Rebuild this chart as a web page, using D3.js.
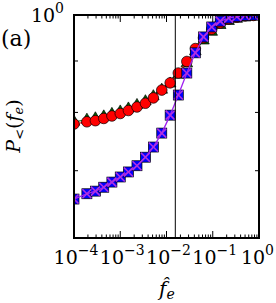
<!DOCTYPE html>
<html><head><meta charset="utf-8">
<script src="https://cdn.jsdelivr.net/npm/d3@7"></script>
<style>html,body{margin:0;padding:0;background:#fff}svg{display:block}</style>
</head><body><div id="c"></div>
<script>
const W=276,H=303;
const xVals=[1e-4,1.9e-4,2.9e-4,4.4e-4,6.6e-4,1.0e-3,1.5e-3,2.3e-3,3.5e-3,5.2e-3,7.9e-3,0.012,0.018,0.0275,0.042,0.063,0.095,0.145,0.22,0.33,0.5,0.76];
const redVals=[0.779,0.783,0.785,0.789,0.7935,0.798,0.8035,0.810,0.817,0.827,0.842,0.856,0.8755,0.899,0.926,0.949,0.968,0.982,0.991,0.995,0.998,0.999];
const greenVals=[0.783,0.7865,0.789,0.7925,0.797,0.8015,0.807,0.8135,0.8205,0.830,0.8425,0.8545,0.872,0.895,0.920,0.943,0.962,0.977,0.986,0.991,0.994,0.996];
const blueVals=[0.656,0.664,0.668,0.674,0.682,0.690,0.698,0.708,0.722,0.739,0.763,0.795,0.8325,0.8755,0.917,0.951,0.973,0.986,0.993,0.9966,0.999,1.0];
const vline=0.0155;
const xTicks=[1e-4,1e-3,1e-2,1e-1,1];
const xTickExps=["−4","−3","−2","−1","0"];
const yMinorTicks=[0.7,0.8,0.9];
const FONT="DejaVu Serif";

const L=74,R=259,T=15,B=238;
const x=d3.scaleLog().domain([1e-4,1]).range([L,R]);
const y=d3.scaleLog().domain([0.6,1]).range([B,T]);
const svg=d3.select("#c").append("svg").attr("width",W).attr("height",H);
svg.append("defs").append("clipPath").attr("id","clip").append("rect").attr("x",L).attr("y",T).attr("width",R-L).attr("height",B-T);
const g=svg.append("g").attr("clip-path","url(#clip)");

const gl=d3.line().x((d,i)=>x(xVals[i])).y(d=>y(d));
g.append("path").attr("d",gl(greenVals)).attr("fill","none").attr("stroke","#006400").attr("stroke-width",1);
const tri=d3.symbol().type(d3.symbolTriangle).size(58);
g.selectAll(".tri").data(greenVals).join("path").attr("d",tri).attr("transform",(d,i)=>`translate(${x(xVals[i])},${y(d)})`).attr("fill","#006400").attr("stroke","#000").attr("stroke-width",0.7);
g.append("path").attr("d",gl(redVals)).attr("fill","none").attr("stroke","red").attr("stroke-width",1);
g.selectAll(".cir").data(redVals).join("circle").attr("cx",(d,i)=>x(xVals[i])).attr("cy",d=>y(d)).attr("r",5.3).attr("fill","red").attr("stroke","#000").attr("stroke-width",0.7);
g.selectAll(".sq").data(blueVals).join("rect").attr("x",(d,i)=>x(xVals[i])-5).attr("y",d=>y(d)-5).attr("width",10).attr("height",10).attr("fill","#0000ff").attr("stroke","#000").attr("stroke-width",0.7);
g.append("path").attr("d",gl(blueVals)).attr("fill","none").attr("stroke","#a020f0").attr("stroke-width",1.3);
g.selectAll(".xm").data(blueVals).join("g").attr("transform",(d,i)=>`translate(${x(xVals[i])},${y(d)})`).each(function(){
  const s=d3.select(this);
  s.append("line").attr("x1",-4.5).attr("y1",-4.5).attr("x2",4.5).attr("y2",4.5).attr("stroke","#b030e0").attr("stroke-width",1.6);
  s.append("line").attr("x1",-4.5).attr("y1",4.5).attr("x2",4.5).attr("y2",-4.5).attr("stroke","#b030e0").attr("stroke-width",1.6);
});
svg.append("line").attr("x1",x(vline)).attr("x2",x(vline)).attr("y1",T).attr("y2",B).attr("stroke","#000").attr("stroke-width",1);

const ax=svg.append("g").attr("stroke","#000").attr("stroke-width",1);
const minor=[];
for(let e=-4;e<0;e++){for(let m=2;m<=9;m++)minor.push(m*Math.pow(10,e));}
minor.forEach(v=>{const px=x(v);ax.append("line").attr("x1",px).attr("x2",px).attr("y1",B).attr("y2",B-3.5);ax.append("line").attr("x1",px).attr("x2",px).attr("y1",T).attr("y2",T+3.5);});
xTicks.forEach(v=>{const px=x(v);ax.append("line").attr("x1",px).attr("x2",px).attr("y1",B).attr("y2",B-7);ax.append("line").attr("x1",px).attr("x2",px).attr("y1",T).attr("y2",T+7);});
yMinorTicks.forEach(v=>{const py=y(v);ax.append("line").attr("x1",L).attr("x2",L+4).attr("y1",py).attr("y2",py);ax.append("line").attr("x1",R).attr("x2",R-4).attr("y1",py).attr("y2",py);});
svg.append("rect").attr("x",L).attr("y",T).attr("width",R-L).attr("height",B-T).attr("fill","none").attr("stroke","#000").attr("stroke-width",2);

xTicks.forEach((v,i)=>{const last=i===xTicks.length-1;
 const t=svg.append("text").attr("font-family",FONT).attr("x",last?274:x(v)+2).attr("y",264).attr("text-anchor",last?"end":"middle").attr("font-size",19);
 t.append("tspan").text("10");t.append("tspan").attr("dy",-9).attr("font-size",14).text(xTickExps[i]);});
{const t=svg.append("text").attr("font-family",FONT).attr("x",64).attr("y",22).attr("text-anchor","end").attr("font-size",19);
 t.append("tspan").text("10");t.append("tspan").attr("dy",-9).attr("font-size",14).text("0");}
svg.append("text").attr("font-family",FONT).attr("x",1).attr("y",46).attr("font-size",22).text("(a)");
{const t=svg.append("text").attr("font-family",FONT).attr("x",159).attr("y",296).attr("font-size",20).attr("font-style","italic");
 t.append("tspan").text("f\u0302");t.append("tspan").attr("dy",3).attr("font-size",14).text("e");}
{const t=svg.append("text").attr("font-family",FONT).attr("transform","translate(20,126) rotate(-90)").attr("text-anchor","middle").attr("font-size",19);
 t.append("tspan").attr("font-style","italic").text("P");
 t.append("tspan").attr("dy",4).attr("font-size",13).text("<");
 t.append("tspan").attr("dy",-4).text("(");
 t.append("tspan").attr("font-style","italic").text("f");
 t.append("tspan").attr("dy",3).attr("font-size",13).attr("font-style","italic").text("e");
 t.append("tspan").attr("dy",-3).text(")");}
</script></body></html>
